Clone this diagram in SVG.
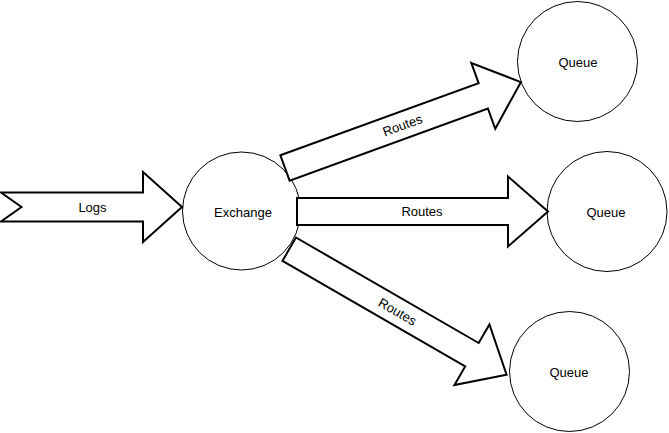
<svg xmlns="http://www.w3.org/2000/svg" width="669" height="433" viewBox="0 0 669 433">
<style>
.node{fill:#fff;stroke:#000;stroke-width:1}
.arr{fill:#fff;stroke:#000;stroke-width:2;stroke-linejoin:miter}
text{font-family:"Liberation Sans",Arial,sans-serif;font-size:13px;fill:#000;text-anchor:middle;dominant-baseline:central}
</style>
<defs>
<path id="route" d="M0,-13.5 L211,-13.5 L211,-35 L251,0 L211,35 L211,13.5 L0,13.5 Z"/>
</defs>
<rect width="669" height="433" fill="#fff"/>
<g id="exchange"><circle class="node" cx="241.5" cy="211" r="59"/><text x="243" y="212">Exchange</text></g>
<g id="queue1"><circle class="node" cx="577.5" cy="61.5" r="60"/><text x="578" y="62">Queue</text></g>
<g id="queue2"><circle class="node" cx="607" cy="211.5" r="60"/><text x="606" y="212">Queue</text></g>
<g id="queue3"><circle class="node" cx="569.5" cy="371.5" r="60"/><text x="569" y="372">Queue</text></g>
<g id="connectors">
<g id="logs">
<path class="arr" d="M1,192.5 L143,192.5 L143,172 L182,207 L143,242 L143,221.5 L1,221.5 L21.5,207 Z"/>
<text x="92.5" y="207.5">Logs</text>
</g>
<g id="route1" transform="translate(285,168) rotate(-20)">
<use href="#route" class="arr"/>
<text x="125" y="0">Routes</text>
</g>
<g id="route2" transform="translate(297,211.5)">
<use href="#route" class="arr"/>
<text x="125" y="0">Routes</text>
</g>
<g id="route3" transform="translate(289.2,249.2) rotate(30)">
<use href="#route" class="arr"/>
<text x="125" y="0">Routes</text>
</g>
</g>
</svg>
